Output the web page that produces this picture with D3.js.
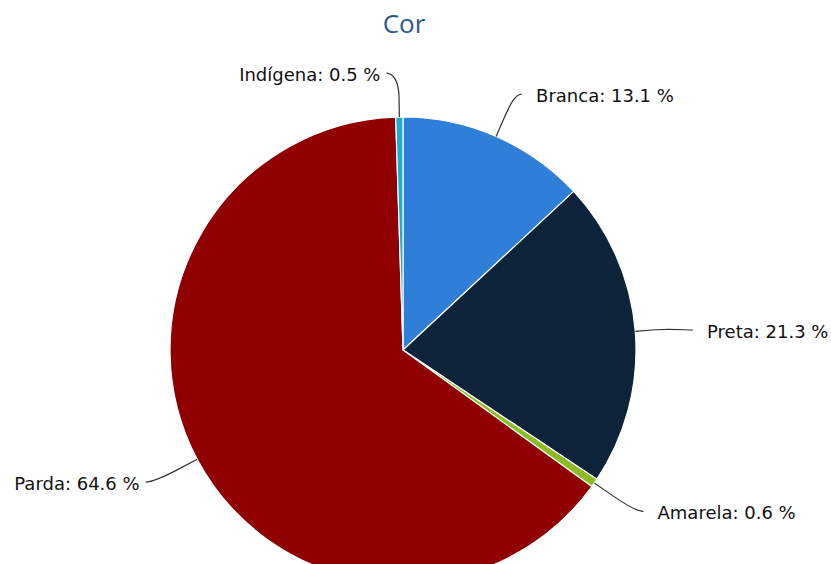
<!DOCTYPE html>
<html>
<head>
<meta charset="utf-8">
<script src="https://cdn.jsdelivr.net/npm/d3@7"></script>
<style>
  html, body { margin: 0; padding: 0; background: #ffffff; }
  svg { display: block; }
</style>
</head>
<body>
<svg id="chart" width="831" height="564"></svg>
<script>
// Data: share of each group, in slice order clockwise from 12 o'clock
const categories = ["Branca", "Preta", "Amarela", "Parda", "Indígena"];
const shares = [13.1, 21.3, 0.6, 64.6, 0.5];
const colors = ["#2f7ed8", "#0d233a", "#8bbc21", "#910000", "#1aadce"];
const title = "Cor";

// Layout
const W = 831, H = 564;
const cx = 403, cy = 350, r = 233;
const labelDistance = 55;
// small adjustments so labels do not crowd each other or the title
const labelNudge = {
  "Branca": [4, 8],
  "Preta": [3, 3],
  "Amarela": [4, -3],
  "Parda": [-3, -3],
  "Indígena": [-12, 11]
};

const svg = d3.select("#chart");

svg.append("text")
  .attr("x", 404)
  .attr("y", 33)
  .attr("text-anchor", "middle")
  .attr("font-family", "'Open Sans', 'DejaVu Sans', sans-serif")
  .attr("font-size", 26)
  .attr("fill", "#30598a")
  .text(title);

const rows = categories.map((c, i) => ({ name: c, value: shares[i], color: colors[i] }));

const pie = d3.pie().value(d => d.value).sort(null);
const arcs = pie(rows);

const arc = d3.arc().innerRadius(0).outerRadius(r);

const g = svg.append("g").attr("transform", `translate(${cx},${cy})`);

g.selectAll("path.slice")
  .data(arcs)
  .join("path")
  .attr("class", "slice")
  .attr("d", arc)
  .attr("fill", d => d.data.color)
  .attr("stroke", "#ffffff")
  .attr("stroke-width", 1.2)
  .attr("stroke-linejoin", "round");

// polar point relative to the pie centre, angle clockwise from 12 o'clock
const polar = (R, a) => [R * Math.sin(a), -R * Math.cos(a)];

arcs.forEach(d => {
  const mid = (d.startAngle + d.endAngle) / 2;
  const right = Math.sin(mid) > 0;
  const nudge = labelNudge[d.data.name] || [0, 0];
  const e = polar(r + labelDistance, mid);
  e[0] += nudge[0];
  e[1] += nudge[1];
  const c1 = [e[0] + (right ? -7 : 7), e[1]];
  const c2 = polar(r + 35, mid);
  const p1 = polar(r + 20, mid);
  const p0 = polar(r, mid);

  const path = d3.path();
  path.moveTo(e[0], e[1]);
  path.bezierCurveTo(c1[0], c1[1], c2[0], c2[1], p1[0], p1[1]);
  path.lineTo(p0[0], p0[1]);

  g.append("path")
    .attr("d", path.toString())
    .attr("fill", "none")
    .attr("stroke", "#333333")
    .attr("stroke-width", 1.2);

  g.append("text")
    .attr("x", right ? e[0] + 14 : e[0] - 6)
    .attr("y", e[1] + 3)
    .attr("dominant-baseline", "middle")
    .attr("text-anchor", right ? "start" : "end")
    .attr("font-family", "'DejaVu Sans', sans-serif")
    .attr("font-size", 18)
    .attr("fill", "#111111")
    .text(`${d.data.name}: ${d3.format(".1f")(d.data.value)} %`);
});
</script>
</body>
</html>
